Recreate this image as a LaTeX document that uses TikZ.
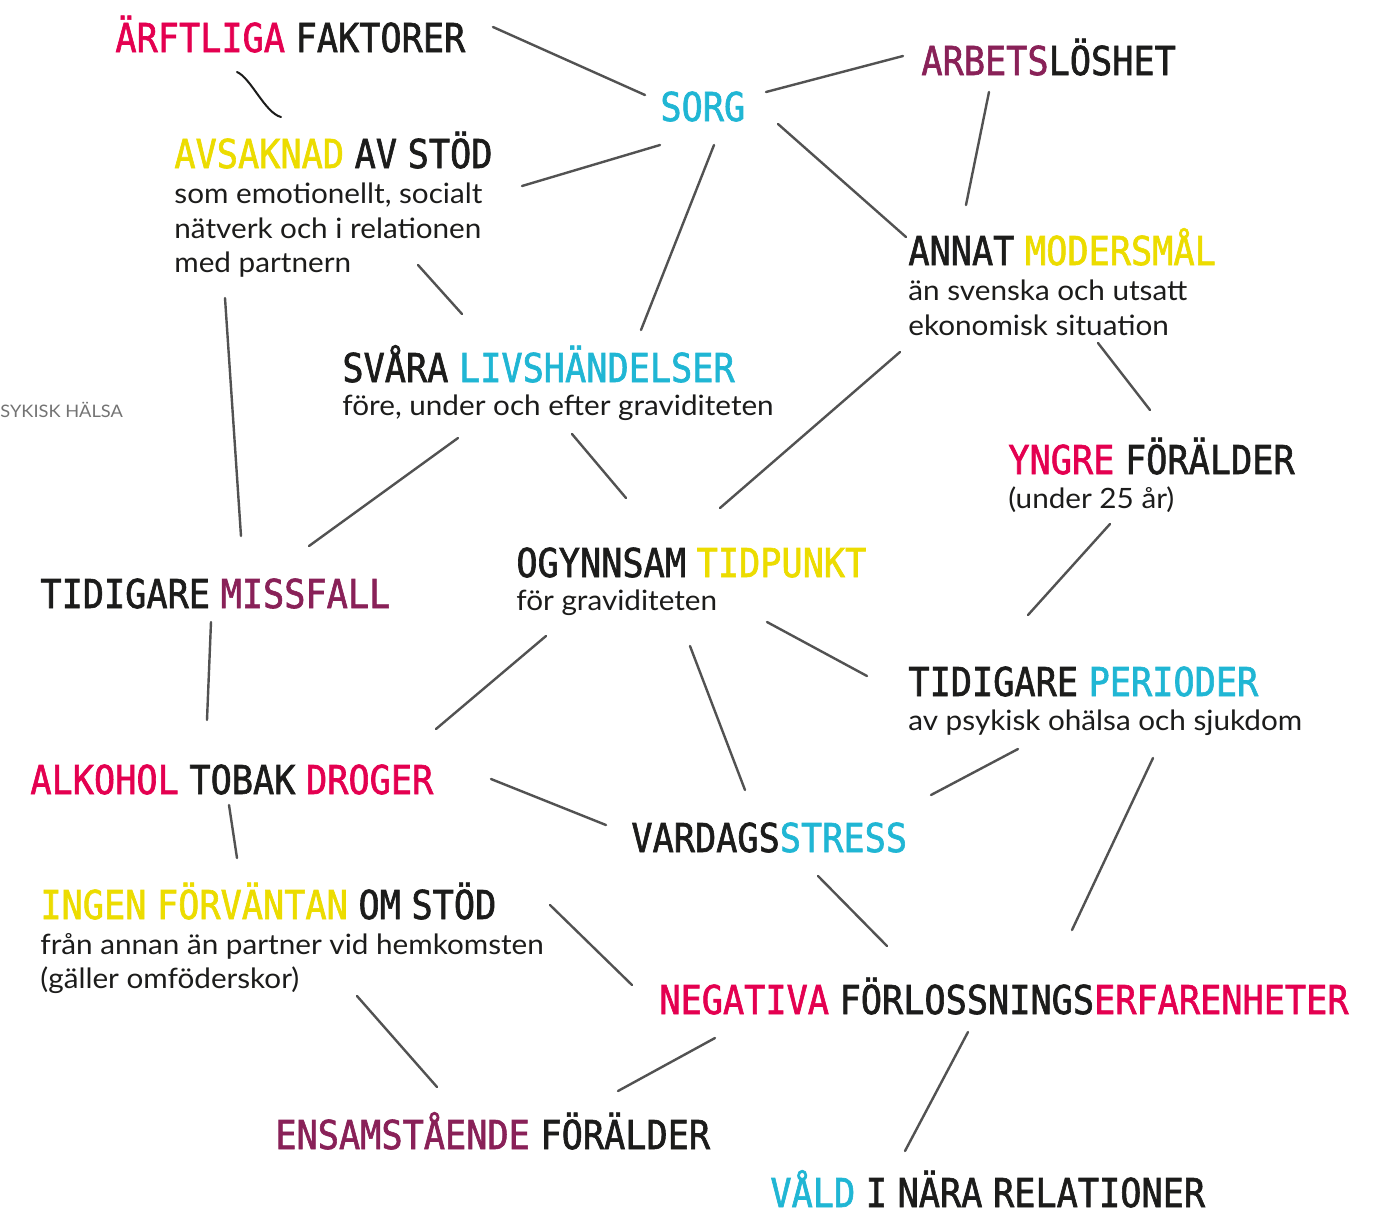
\documentclass[tikz,border=0pt]{standalone}
\usepackage{fontspec}
\setmainfont[FakeStretch=1.06]{Lato}
\newfontfamily\rubrikfont[FakeStretch=0.885, FakeBold=1.5, WordSpace=0.5]{DejaVu Sans Mono}
\usetikzlibrary{positioning}

\definecolor{mkrosa}{RGB}{228,0,80}
\definecolor{mkgul}{RGB}{236,220,0}
\definecolor{mkbla}{RGB}{32,182,212}
\definecolor{mklila}{RGB}{137,33,88}
\definecolor{mksvart}{RGB}{28,28,27}
\definecolor{mklinje}{RGB}{82,82,82}

\newcommand\rosa[1]{\textcolor{mkrosa}{#1}}
\newcommand\gul[1]{\textcolor{mkgul}{#1}}
\newcommand\bla[1]{\textcolor{mkbla}{#1}}
\newcommand\lila[1]{\textcolor{mklila}{#1}}

\begin{document}
\begin{tikzpicture}
  [x=0.5pt, y=-0.5pt,
   rubrik/.style={font=\rubrikfont\fontsize{19.9}{24}\selectfont, text=mksvart,
                  inner sep=0pt, anchor=base west},
   brod/.style={font=\fontsize{14}{17.3}\selectfont, text=mksvart, inner sep=0pt, align=left},
   lank/.style={draw=mklinje, line width=1.2pt, line cap=round}]
  \path[use as bounding box, fill=white] (0,0) rectangle (1389,1212);

  % rubriker
  \node[rubrik] (arftliga) at (115,52)  {\rosa{ÄRFTLIGA} FAKTORER};
  \node[rubrik] (sorg)     at (660,121) {\bla{SORG}};
  \node[rubrik] (arbets)   at (921,75)  {\lila{ARBETS}LÖSHET};
  \node[rubrik] (avsaknad) at (174,168) {\gul{AVSAKNAD} AV STÖD};
  \node[rubrik] (annat)    at (908,265) {ANNAT \gul{MODERSMÅL}};
  \node[rubrik] (svara)    at (342,382) {SVÅRA \bla{LIVSHÄNDELSER}};
  \node[rubrik] (yngre)    at (1008,474) {\rosa{YNGRE} FÖRÄLDER};
  \node[rubrik] (missfall) at (40,608)  {TIDIGARE \lila{MISSFALL}};
  \node[rubrik] (ogynnsam) at (516,577) {OGYNNSAM \gul{TIDPUNKT}};
  \node[rubrik] (perioder) at (908,696) {TIDIGARE \bla{PERIODER}};
  \node[rubrik] (alkohol)  at (30,794)  {\rosa{ALKOHOL} TOBAK \rosa{DROGER}};
  \node[rubrik] (vardag)   at (631,852) {VARDAGS\bla{STRESS}};
  \node[rubrik] (ingen)    at (40,919)  {\gul{INGEN FÖRVÄNTAN} OM STÖD};
  \node[rubrik] (negativa) at (659,1014) {\rosa{NEGATIVA} FÖRLOSSNINGS\rosa{ERFARENHETER}};
  \node[rubrik] (ensam)    at (275,1149) {\lila{ENSAMSTÅENDE} FÖRÄLDER};
  \node[rubrik] (vald)     at (770,1207) {\bla{VÅLD} I NÄRA RELATIONER};

  % brödtext
  \node[brod, below=7.3pt of avsaknad.base west, anchor=north west] (avsaknadtext)
    {som emotionellt, socialt\\nätverk och i relationen\\med partnern};
  \node[brod, below=7.3pt of annat.base west, anchor=north west] (annattext)
    {än svenska och utsatt\\ekonomisk situation};
  \node[brod, below=6.3pt of svara.base west, anchor=north west] (svaratext)
    {före, under och efter graviditeten};
  \node[brod, below=6.3pt of yngre.base west, anchor=north west] (yngretext)
    {(under 25 år)};
  \node[brod, below=6.3pt of ogynnsam.base west, anchor=north west] (ogynnsamtext)
    {för graviditeten};
  \node[brod, below=6.8pt of perioder.base west, anchor=north west] (periodertext)
    {av psykisk ohälsa och sjukdom};
  \node[brod, below=6.8pt of ingen.base west, anchor=north west] (ingentext)
    {från annan än partner vid hemkomsten\\(gäller omföderskor)};
  \node[font=\fontsize{8.6}{10}\selectfont, text=black!55, inner sep=0pt, anchor=base west]
    (sykisk) at (0,417) {SYKISK HÄLSA};

  % kopplingar
  \foreach \a/\ax/\ay/\b/\bx/\by in {
      arftliga/378/-25/sorg/-15/-26,
      sorg/106/-29/arbets/-18/-19,
      avsaknad/348/18/sorg/0/24,
      sorg/54/24/svara/299/-52,
      sorg/118/3/annat/-2/-28,
      arbets/68/17/annat/58/-60,
      avsaknad/51/130/missfall/201/-72,
      avsaknad/244/97/svara/120/-68,
      annat/190/78/yngre/142/-64,
      annat/-8/87/ogynnsam/204/-69,
      svara/116/56/missfall/269/-62,
      svara/230/52/ogynnsam/110/-79,
      yngre/102/50/perioder/120/-81,
      ogynnsam/251/45/perioder/-41/-20,
      ogynnsam/30/59/alkohol/406/-65,
      ogynnsam/174/69/vardag/114/-62,
      missfall/171/14/alkohol/177/-74,
      alkohol/461/-15/vardag/-25/-27,
      perioder/110/53/vardag/300/-57,
      perioder/245/62/negativa/413/-84,
      alkohol/199/11/ingen/197/-61,
      vardag/187/24/negativa/228/-68,
      ingen/510/-14/negativa/-27/-29,
      ingen/317/77/ensam/162/-62,
      negativa/56/24/ensam/343/-58,
      negativa/309/18/vald/135/-56}
    \draw[lank] ([shift={(\ax,\ay)}]\a.base west) -- ([shift={(\bx,\by)}]\b.base west);

  % den svarta kroken
  \draw[mksvart, line width=1pt, line cap=round]
    ([shift={(122,20)}]arftliga.base west) .. controls +(14,6) and +(-16,-4) ..
    ([shift={(107,-51)}]avsaknad.base west);
\end{tikzpicture}
\end{document}
